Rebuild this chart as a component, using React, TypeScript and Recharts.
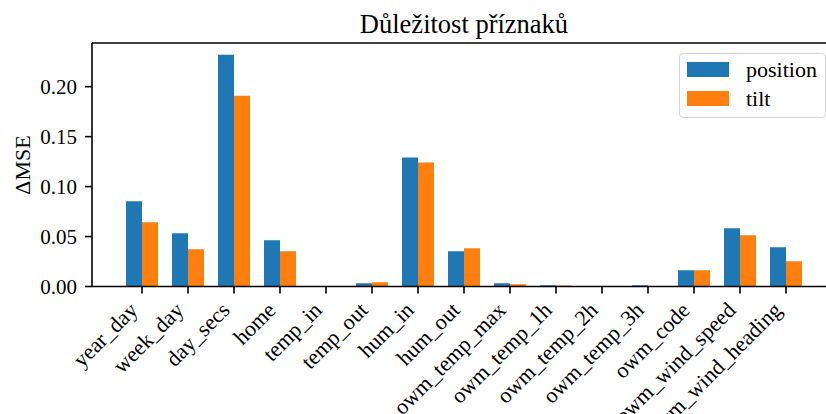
import React from 'react';
import { BarChart, Bar, XAxis, YAxis, Legend, ReferenceLine } from 'recharts';

const categories = [
  'year_day', 'week_day', 'day_secs', 'home', 'temp_in', 'temp_out', 'hum_in', 'hum_out',
  'owm_temp_max', 'owm_temp_1h', 'owm_temp_2h', 'owm_temp_3h', 'owm_code', 'owm_wind_speed', 'owm_wind_heading',
];
const positionValues = [0.0852, 0.0532, 0.232, 0.0462, 0, 0.0033, 0.129, 0.0352, 0.0033, 0.0013, 0, 0.0013, 0.0163, 0.0582, 0.0392];
const tiltValues = [0.0642, 0.0372, 0.191, 0.0352, 0, 0.0043, 0.124, 0.0382, 0.0023, 0.001, 0, 0, 0.0163, 0.0512, 0.0252];
const yTicks = [0, 0.05, 0.1, 0.15, 0.2];
const Y_MAX = 0.2437;
const TITLE = 'Důležitost příznaků';
const Y_LABEL = 'ΔMSE';

const data = categories.map((c, i) => ({ name: c, position: positionValues[i], tilt: tiltValues[i] }));

const FONT = '"Liberation Serif", "Times New Roman", serif';
const BLUE = '#1f77b4';
const ORANGE = '#ff7f0e';

const XTick = (props: any) => {
  const { x, y, payload } = props;
  const tx = x - 3;
  const ty = y + 18;
  return (
    <text x={tx} y={ty} transform={`rotate(-45, ${tx}, ${ty})`} textAnchor="end" fontFamily={FONT} fontSize={22} fill="#000">
      {payload.value}
    </text>
  );
};

const LegendContent = (props: any) => {
  const { payload } = props;
  return (
    <div
      style={{
        boxSizing: 'border-box',
        width: 147,
        height: 65,
        border: '1.5px solid #d4d4d4',
        borderRadius: 4,
        background: 'rgba(255,255,255,0.8)',
        position: 'relative',
      }}
    >
      {(payload || []).map((p: any, i: number) => (
        <div key={i} style={{ position: 'absolute', left: 7, top: 8 + i * 29, height: 15, display: 'flex', alignItems: 'center' }}>
          <div style={{ width: 42, height: 15, background: p.color }} />
          <span style={{ marginLeft: 17, fontFamily: FONT, fontSize: 22, color: '#000', lineHeight: '15px', whiteSpace: 'nowrap' }}>
            {p.value}
          </span>
        </div>
      ))}
    </div>
  );
};

export default function App() {
  return (
    <div style={{ position: 'absolute', left: 0, top: 0, width: 826, height: 414, overflow: 'hidden', background: '#fff' }}>
      <BarChart
        width={846}
        height={414}
        data={data}
        margin={{ top: 43, right: 10, bottom: 0, left: 0 }}
        barCategoryGap={7}
        barGap={0}
      >
        <XAxis
          dataKey="name"
          height={127.5}
          padding={{ left: 27, right: 27 }}
          interval={0}
          tick={<XTick />}
          tickSize={7}
          tickMargin={0}
          axisLine={{ stroke: '#000', strokeWidth: 1.6 }}
          tickLine={{ stroke: '#000', strokeWidth: 1.6 }}
        />
        <YAxis
          width={92}
          domain={[0, Y_MAX]}
          ticks={yTicks}
          allowDataOverflow
          tickFormatter={(v: number) => v.toFixed(2)}
          tickSize={7}
          tickMargin={8}
          tick={{ fill: '#000', fontFamily: FONT, fontSize: 21 }}
          axisLine={{ stroke: '#000', strokeWidth: 1.6 }}
          tickLine={{ stroke: '#000', strokeWidth: 1.6 }}
        />
        <ReferenceLine y={Y_MAX} stroke="#000" strokeWidth={1.6} />
        <Legend
          layout="vertical"
          align="center"
          verticalAlign="middle"
          content={<LegendContent />}
          wrapperStyle={{ left: 679, top: 53, width: 147, height: 65 }}
        />
        <Bar dataKey="position" name="position" fill={BLUE} isAnimationActive={false} />
        <Bar dataKey="tilt" name="tilt" fill={ORANGE} isAnimationActive={false} />
      </BarChart>
      <svg width={826} height={414} style={{ position: 'absolute', left: 0, top: 0, pointerEvents: 'none' }}>
        <text x={464} y={33} textAnchor="middle" fontFamily={FONT} fontSize={26.5} fill="#000">{TITLE}</text>
        <text x={30} y={165} transform="rotate(-90, 30, 165)" textAnchor="middle" fontFamily={FONT} fontSize={22} fill="#000">{Y_LABEL}</text>
      </svg>
    </div>
  );
}
